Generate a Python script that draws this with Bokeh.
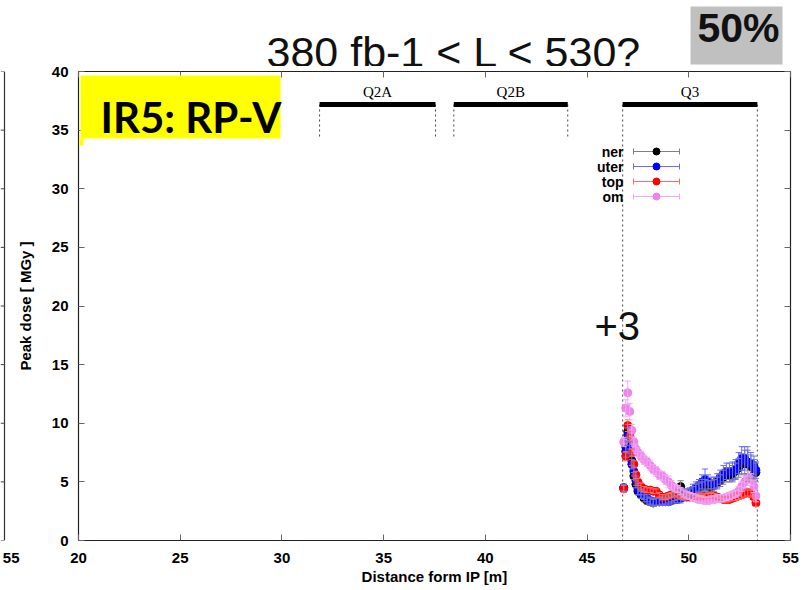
import math
from bokeh.plotting import figure
from bokeh.layouts import row, column
from bokeh.models import (LinearAxis, SingleIntervalTicker, FixedTicker, Label, BoxAnnotation,
                          ColumnDataSource, Whisker, TeeHead, Range1d, CustomLabelingPolicy)
from bokeh.core.properties import value
from bokeh.embed import file_html
from bokeh.resources import INLINE

# ---------------- data ----------------
DIST = [46.8, 46.9, 47.0, 47.1, 47.2, 47.3, 47.4, 47.5, 47.65, 47.8,
        47.95, 48.1, 48.25, 48.4, 48.55, 48.7, 48.85, 49.0, 49.15, 49.3,
        49.45, 49.6, 49.75, 49.9, 50.05, 50.2, 50.35, 50.5, 50.65, 50.8,
        50.95, 51.1, 51.25, 51.4, 51.55, 51.7, 51.85, 52.0, 52.15, 52.3,
        52.45, 52.6, 52.75, 52.9, 53.05, 53.2, 53.3]

INNER = [4.5, 8.0, 9.3, 8.3, 6.8, 5.5, 4.8, 4.2, 3.9, 3.6,
         3.4, 3.3, 3.2, 3.3, 3.3, 3.4, 3.4, 3.5, 3.6, 3.7,
         3.9, 4.6, 3.9, 4.0, 4.0, 4.2, 4.4, 4.5, 4.6, 4.7,
         4.6, 4.6, 4.7, 4.9, 5.1, 5.4, 5.6, 5.6, 5.7, 5.9,
         6.2, 6.5, 6.7, 6.5, 6.3, 6.0, 5.8]
INNER_ERR = [0.3, 0.5, 0.6, 0.5, 0.4, 0.3, 0.3, 0.3, 0.3, 0.3,
             0.3, 0.3, 0.3, 0.3, 0.3, 0.3, 0.3, 0.3, 0.3, 0.3,
             0.4, 0.5, 0.4, 0.4, 0.4, 0.4, 0.4, 0.4, 0.4, 0.5,
             0.5, 0.5, 0.5, 0.5, 0.5, 0.6, 0.6, 0.6, 0.7, 0.7,
             0.8, 0.9, 1.0, 1.5, 1.0, 0.9, 0.8]

OUTER = [4.5, 7.6, 9.0, 7.9, 6.5, 5.9, 5.1, 4.4, 4.0, 3.8,
         3.6, 3.4, 3.3, 3.3, 3.3, 3.3, 3.3, 3.3, 3.4, 3.5,
         3.5, 3.6, 3.8, 4.0, 4.1, 4.3, 4.5, 4.7, 5.0, 5.2,
         5.0, 4.9, 4.9, 5.1, 5.4, 5.7, 5.9, 5.9, 5.9, 6.1,
         6.6, 7.0, 7.0, 6.7, 6.6, 6.4, 6.0]
OUTER_ERR = [0.3, 0.5, 0.6, 0.5, 0.4, 0.4, 0.4, 0.5, 0.4, 0.3,
             0.3, 0.3, 0.3, 0.3, 0.3, 0.3, 0.3, 0.3, 0.3, 0.3,
             0.3, 0.4, 0.4, 0.4, 0.4, 0.5, 0.5, 0.5, 0.6, 0.9,
             0.6, 0.5, 0.5, 0.6, 0.6, 0.7, 0.7, 0.7, 0.8, 0.8,
             0.9, 1.0, 1.0, 1.0, 0.9, 0.8, 0.7]

TOP = [4.4, 7.2, 9.8, 8.9, 7.5, 6.5, 5.6, 5.0, 4.6, 4.4,
       4.3, 4.3, 4.2, 4.2, 3.9, 3.7, 3.7, 3.8, 3.9, 4.0,
       3.9, 3.8, 3.7, 3.7, 3.7, 3.7, 3.7, 3.8, 3.7, 3.8,
       3.8, 3.9, 3.8, 3.7, 3.6, 3.5, 3.5, 3.5, 3.6, 3.7,
       3.8, 3.9, 4.0, 4.1, 4.0, 3.7, 3.2]
TOP_ERR = [0.3, 0.4, 0.5, 0.4, 0.3, 0.3, 0.3, 0.3, 0.3, 0.2,
           0.2, 0.2, 0.2, 0.2, 0.2, 0.2, 0.2, 0.2, 0.2, 0.2,
           0.2, 0.2, 0.2, 0.2, 0.2, 0.2, 0.2, 0.2, 0.2, 0.2,
           0.2, 0.2, 0.2, 0.2, 0.2, 0.2, 0.2, 0.2, 0.2, 0.3,
           0.3, 0.3, 0.3, 0.3, 0.3, 0.3, 0.3]

BOTTOM = [8.4, 11.3, 12.6, 11.0, 9.4, 8.4, 7.8, 7.5, 7.2, 6.9,
          6.7, 6.4, 6.1, 5.9, 5.6, 5.5, 5.2, 5.0, 4.7, 4.5,
          4.4, 4.2, 4.0, 3.9, 3.8, 3.7, 3.6, 3.5, 3.5, 3.4,
          3.4, 3.5, 3.5, 3.6, 3.6, 3.6, 3.7, 3.8, 3.9, 4.0,
          4.2, 4.6, 5.0, 5.4, 5.2, 4.6, 3.8]
BOTTOM_ERR = [0.4, 0.7, 1.0, 0.7, 0.5, 0.4, 0.4, 0.4, 0.4, 0.4,
              0.4, 0.4, 0.4, 0.4, 0.4, 0.4, 0.4, 0.5, 0.4, 0.3,
              0.3, 0.3, 0.3, 0.3, 0.3, 0.3, 0.3, 0.3, 0.3, 0.3,
              0.3, 0.3, 0.3, 0.3, 0.3, 0.3, 0.3, 0.3, 0.3, 0.3,
              0.4, 0.4, 0.5, 0.5, 0.5, 0.5, 0.5]

LEGEND_LABELS = ["ner", "uter", "top", "om"]

MAG_NAMES = ["Q2A", "Q2B", "Q3"]
MAG_START = [31.85, 38.45, 46.75]
MAG_END = [37.55, 44.05, 53.37]

X_TICK_INTERVAL = 5
Y_TICK_INTERVAL = 5
XMIN, XMAX, YMIN, YMAX = 20, 55, 0, 40
REMNANT_TICK_LABEL = "55"

TITLE = "380 fb-1 < L < 530?"
BADGE = "50%"
TAG = "IR5: RP-V"
PLUS = "+3"
X_LABEL = "Distance form IP [m]"
Y_LABEL = "Peak dose [ MGy ]"

# ---------------- layout constants (page pixels) ----------------
W, H = 803, 590
LEFT_W = 40          # left strip: remnant panel edge + y-axis title
TOP_H = 66           # top strip: headline + badge
FL, FT, FW, FH = 78, 71, 712, 469
SANS = "Liberation Sans"
BASE_FIX = 14        # Label 'alphabetic' baseline correction (px)


def dx(px):
    return XMIN + (px - FL) * (XMAX - XMIN) / FW


def dy(py):
    return YMIN + (FT + FH - py) * (YMAX - YMIN) / FH


NO_LABELS = CustomLabelingPolicy(code="""
const all = [...indices]
for (const i of all) indices.unset(i)
return indices
""")


def style_axis(ax, interval, labels=True):
    ax.ticker = SingleIntervalTicker(interval=interval)
    ax.major_tick_in = 6
    ax.major_tick_out = 0
    ax.minor_tick_in = 0
    ax.minor_tick_out = 0
    ax.major_tick_line_color = "#666666"
    ax.axis_line_color = None
    ax.major_label_text_font = SANS
    ax.major_label_text_font_style = "bold"
    ax.major_label_text_color = "black"
    if labels:
        ax.major_label_text_font_size = "15px"
    else:
        ax.major_label_text_font_size = "1px"
        ax.major_label_standoff = 0
        ax.major_label_policy = NO_LABELS


def plain(f):
    f.xgrid.visible = False
    f.ygrid.visible = False
    f.background_fill_color = "white"
    f.border_fill_color = "white"
    return f


# ---------------- main chart ----------------
p = plain(figure(frame_width=FW, frame_height=FH,
                 x_range=Range1d(XMIN, XMAX), y_range=Range1d(YMIN, YMAX),
                 min_border_left=FL - LEFT_W, min_border_right=W - FL - FW,
                 min_border_top=FT - TOP_H, min_border_bottom=H - FT - FH,
                 output_backend="svg", toolbar_location=None))
p.outline_line_color = "#222222"
p.outline_line_width = 1.2

style_axis(p.xaxis[0], X_TICK_INTERVAL)
style_axis(p.yaxis[0], Y_TICK_INTERVAL)
p.xaxis[0].major_label_standoff = 12
p.yaxis[0].major_label_standoff = 10
p.xaxis[0].axis_label = X_LABEL
p.xaxis[0].axis_label_text_font = SANS
p.xaxis[0].axis_label_text_font_style = "bold"
p.xaxis[0].axis_label_text_font_size = "15px"
p.xaxis[0].axis_label_text_color = "black"
p.xaxis[0].axis_label_standoff = 2

top_ax = LinearAxis()
style_axis(top_ax, X_TICK_INTERVAL, labels=False)
p.add_layout(top_ax, "above")
right_ax = LinearAxis()
style_axis(right_ax, Y_TICK_INTERVAL, labels=False)
p.add_layout(right_ax, "right")

# magnet markers
bar_y = dy(104)
lab_y = dy(91)
q2_bottom = dy(137)
centers = [(a + b) / 2 for a, b in zip(MAG_START, MAG_END)]
dot_bottoms = [q2_bottom, q2_bottom, YMIN]
p.segment(x0=MAG_START + MAG_END, x1=MAG_START + MAG_END,
          y0=[bar_y] * 6, y1=dot_bottoms + dot_bottoms,
          line_color="#444444", line_width=1, line_dash="2 3")
p.segment(x0=MAG_START, x1=MAG_END, y0=[bar_y] * 3, y1=[bar_y] * 3,
          line_color="black", line_width=5, line_cap="butt")
p.text(x=centers, y=[lab_y] * 3, text=MAG_NAMES,
       text_font=value("Liberation Serif"), text_font_size="15px",
       text_align="center", text_baseline="middle", text_color="black")

# series
series = [
    (INNER, INNER_ERR, "#000000", "#808080"),
    (OUTER, OUTER_ERR, "#0000ff", "#6a6aff"),
    (TOP, TOP_ERR, "#ff0000", "#ff6a6a"),
    (BOTTOM, BOTTOM_ERR, "#ee82ee", "#f3a8f3"),
]
for ys, es, col, ecol in series:
    src = ColumnDataSource(dict(x=DIST, y=ys,
                                lo=[y - e for y, e in zip(ys, es)],
                                hi=[y + e for y, e in zip(ys, es)]))
    wh = Whisker(source=src, base="x", upper="hi", lower="lo",
                 line_color=ecol, line_width=1, level="glyph",
                 upper_head=TeeHead(size=6, line_color=ecol, line_width=1),
                 lower_head=TeeHead(size=6, line_color=ecol, line_width=1))
    p.add_layout(wh)
    p.scatter("x", "y", source=src, size=8, color=col, line_color=col)

# key
key_rows = [dy(v) for v in (151, 166, 181, 196)]
kx0, kx1, kxm, ktx = dx(633), dx(679), dx(656), dx(623)
cap = 3 * (YMAX - YMIN) / FH
for (ys, es, col, ecol), ky in zip(series, key_rows):
    p.segment(x0=[kx0], x1=[kx1], y0=[ky], y1=[ky], line_color=ecol, line_width=1)
    p.segment(x0=[kx0, kx1], x1=[kx0, kx1], y0=[ky - cap] * 2, y1=[ky + cap] * 2,
              line_color=ecol, line_width=1)
    p.scatter(x=[kxm], y=[ky], size=7, color=col)
p.text(x=[ktx] * 4, y=key_rows, text=LEGEND_LABELS, text_font=value(SANS),
       text_font_style="bold", text_font_size="14px", text_align="right",
       text_baseline="middle", text_color="black")

# in-frame overlays
p.add_layout(BoxAnnotation(left=dx(80), right=dx(280), top=dy(75), bottom=dy(138),
                           fill_color="#ffff00", fill_alpha=1, line_color=None))
p.add_layout(BoxAnnotation(left=dx(79), right=dx(83), top=dy(138), bottom=dy(145),
                           fill_color="#ffff00", fill_alpha=1, line_color=None))
p.add_layout(Label(x=dx(100), y=dy(130 - BASE_FIX), text=TAG, text_font="Lato",
                   text_font_style="bold", text_font_size="42px",
                   text_baseline="alphabetic", text_color="black"))
p.add_layout(Label(x=dx(594), y=dy(339 - BASE_FIX), text=PLUS, text_font=SANS,
                   text_font_size="40px", text_baseline="alphabetic",
                   text_color="#111111"))

# ---------------- top strip (x: page px, y: px above the strip's bottom) ----------------
t = plain(figure(width=W, height=TOP_H, x_range=Range1d(0, W), y_range=Range1d(0, TOP_H),
                 min_border_left=0, min_border_right=0, min_border_top=0, min_border_bottom=0,
                 x_axis_location=None, y_axis_location=None,
                 output_backend="svg", toolbar_location=None))
t.outline_line_color = None
t.add_layout(BoxAnnotation(left=690, right=782, top=TOP_H - 6, bottom=TOP_H - 64,
                           fill_color="#c0c0c0", fill_alpha=1, line_color=None))
t.add_layout(Label(x=266, y=TOP_H - (65 - BASE_FIX), text=TITLE, text_font=SANS,
                   text_font_size="43px", text_baseline="alphabetic",
                   text_color="#111111"))
t.add_layout(Label(x=738, y=TOP_H - 27, text=BADGE, text_font=SANS,
                   text_font_style="bold", text_font_size="41px",
                   text_align="center", text_baseline="middle",
                   text_color="#111111"))

# ---------------- left strip (x: page px, y: chart data units, frame level with chart) ----------------
l = plain(figure(frame_width=LEFT_W, frame_height=FH,
                 x_range=Range1d(0, LEFT_W), y_range=Range1d(YMIN, YMAX),
                 min_border_left=0, min_border_right=0,
                 min_border_top=FT - TOP_H, min_border_bottom=H - FT - FH,
                 y_axis_location=None,
                 output_backend="svg", toolbar_location=None))
l.outline_line_color = None
edge_x = 4
rem_ticks = list(range(YMIN, YMAX + 1, Y_TICK_INTERVAL))
l.segment(x0=[edge_x], x1=[edge_x], y0=[YMIN], y1=[YMAX], line_color="#333333", line_width=1.2)
l.segment(x0=[0] * len(rem_ticks), x1=[edge_x] * len(rem_ticks), y0=rem_ticks, y1=rem_ticks,
          line_color="#444444", line_width=1)
l.text(x=[25], y=[(YMIN + YMAX) / 2], text=[Y_LABEL], angle=math.pi / 2,
       text_font=value(SANS), text_font_style="bold", text_font_size="15px",
       text_align="center", text_baseline="middle", text_color="black")
lx = l.xaxis[0]
lx.ticker = FixedTicker(ticks=[6])
lx.major_label_overrides = {6: REMNANT_TICK_LABEL}
lx.major_tick_in = 0
lx.major_tick_out = 0
lx.minor_tick_in = 0
lx.minor_tick_out = 0
lx.axis_line_color = None
lx.major_label_text_font = SANS
lx.major_label_text_font_style = "bold"
lx.major_label_text_font_size = "15px"
lx.major_label_text_color = "black"
lx.major_label_standoff = 12

layout = column(t, row(l, p, spacing=0), spacing=0)
open("out.html", "w").write(file_html(layout, INLINE))
